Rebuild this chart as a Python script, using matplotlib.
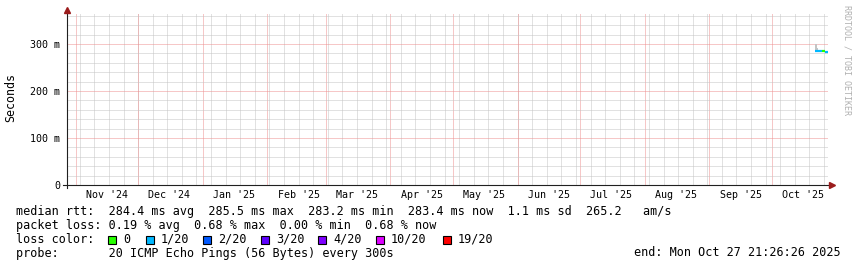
import numpy as np
import pandas as pd
import matplotlib
matplotlib.use("Agg")
import matplotlib.pyplot as plt
import matplotlib.dates as mdates
from matplotlib.ticker import MultipleLocator, FixedLocator
from matplotlib.patches import Rectangle

W, H = 857, 267
MONO = "DejaVu Sans Mono"

end_time = pd.Timestamp("2025-10-27 21:26:26")
start_time = end_time - pd.Timedelta(days=365)

# median rtt (s) and lost pings (of 20) per consolidated step
med_time = pd.to_datetime([
    "2025-10-21 16:00", "2025-10-22 04:00", "2025-10-22 16:00", "2025-10-23 04:00",
    "2025-10-23 16:00", "2025-10-24 04:00", "2025-10-24 16:00", "2025-10-25 04:00",
    "2025-10-25 16:00", "2025-10-26 04:00", "2025-10-26 16:00", "2025-10-27 04:00",
])
med_rtt = [0.2846, 0.2843, 0.2842, 0.2843, 0.2844, 0.2842, 0.2845,
           0.2853, 0.2855, 0.2852, 0.2834, 0.2834]
med_loss = [0.2, 0.1, 0.2, 0.1, 0.1, 0.2, 0.1, 0.0, 0.0, 0.0, 0.14, 0.14]

# smoke (min / max of the pings)
smoke_time = pd.to_datetime(["2025-10-21 16:00", "2025-10-22 04:00", "2025-10-22 16:00",
                             "2025-10-23 04:00"])
smoke_lo = [0.2830, 0.2832, 0.2835, 0.2835]
smoke_hi = [0.3000, 0.2990, 0.2920, 0.2880]

loss_levels = [0, 1, 2, 3, 4, 10, 19]
loss_labels = ["0", "1/20", "2/20", "3/20", "4/20", "10/20", "19/20"]
loss_colors = ["#26ff00", "#00b8ff", "#0059ff", "#5e00ff", "#7e00ff", "#dd00ff", "#ff0000"]

y_max = 0.366
y_ticks = [0, 0.1, 0.2, 0.3]
y_ticklabels = ["0", "100 m", "200 m", "300 m"]

rtt_line = "median rtt:  284.4 ms avg  285.5 ms max  283.2 ms min  283.4 ms now  1.1 ms sd  265.2   am/s"
loss_line = "packet loss: 0.19 % avg  0.68 % max  0.00 % min  0.68 % now"
probe_line = "probe:       20 ICMP Echo Pings (56 Bytes) every 300s"
end_line = "end: Mon Oct 27 21:26:26 2025"


def loss_color(v):
    for lvl, c in zip(loss_levels, loss_colors):
        if v <= lvl:
            return c
    return loss_colors[-1]


fig = plt.figure(figsize=(W / 100, H / 100), dpi=100)
ax_l, ax_r, ax_t, ax_b = 67, 828, 13, 185
ax = fig.add_axes([ax_l / W, (H - ax_b) / H, (ax_r - ax_l) / W, (ax_b - ax_t) / H])
aw, ah = ax_r - ax_l, ax_b - ax_t

ax.set_xlim(start_time, end_time)
ax.set_ylim(0, y_max)
for s in ax.spines.values():
    s.set_visible(False)

grey = "#c4c4c4"
red = "#ee9090"
dots = (0, (1, 1))
gkw = dict(lw=0.72, ls=dots, snap=True)

# grid
for d in pd.date_range(start_time.normalize(), end_time, freq="W-SUN"):
    ax.axvline(d, color=grey, zorder=0, **gkw)
for d in pd.date_range(start_time.normalize(), end_time, freq="MS"):
    ax.axvline(d, color=red, zorder=0.5, **gkw)
ax.yaxis.set_major_locator(FixedLocator(y_ticks))
ax.yaxis.set_minor_locator(MultipleLocator(0.02))
ax.set_yticklabels(y_ticklabels)
ax.grid(axis="y", which="minor", color=grey, zorder=0, **gkw)
ax.grid(axis="y", which="major", color=red, zorder=0.5, **gkw)
ax.set_axisbelow(True)

ax.xaxis.set_major_locator(mdates.MonthLocator(bymonthday=16))
ax.xaxis.set_major_formatter(mdates.DateFormatter("%b '%y"))
ax.tick_params(axis="both", which="both", length=0, labelsize=7.2)
ax.tick_params(axis="x", pad=3.5)
ax.tick_params(axis="y", pad=5)
for lab in ax.get_xticklabels() + ax.get_yticklabels():
    lab.set_family(MONO)

# smoke
ax.fill_between(smoke_time, smoke_lo, smoke_hi, step="post", color="#c4c4c4", lw=0, zorder=2)

# median, coloured by loss
n = len(med_time)
for i in range(n):
    t0 = med_time[i]
    t1 = med_time[i + 1] if i + 1 < n else end_time
    ax.plot([t0, t1], [med_rtt[i], med_rtt[i]], color=loss_color(med_loss[i]),
            lw=1.6, solid_capstyle="butt", zorder=3)

# axes with arrows
axc = "#202020"
arrow = "#9b1c1c"
ax.plot([-4 / aw, 1 + 2 / aw], [0, 0], transform=ax.transAxes, color=axc, lw=0.8, clip_on=False)
ax.plot([0, 0], [-3 / ah, 1 + 1 / ah], transform=ax.transAxes, color=axc, lw=0.8, clip_on=False)
ax.plot([1 + 4 / aw], [0], marker=">", ms=4.5, color=arrow, transform=ax.transAxes, clip_on=False)
ax.plot([0], [1 + 3 / ah], marker="^", ms=4.5, color=arrow, transform=ax.transAxes, clip_on=False)

fig.text(11 / W, 1 - 98 / H, "Seconds", rotation=90, family=MONO, size=8.4,
         ha="center", va="center")
fig.text(847 / W, 1 - 60 / H, "RRDTOOL / TOBI OETIKER", rotation=270, family=MONO, size=6,
         color="#b0b0b0", ha="center", va="center")

# legend block
fs = 8.45
fig.text(16 / W, 1 - 211.5 / H, rtt_line, family=MONO, size=fs, va="center")
fig.text(16 / W, 1 - 225.5 / H, loss_line, family=MONO, size=fs, va="center")
fig.text(16 / W, 1 - 239.5 / H, "loss color:", family=MONO, size=fs, va="center")
fig.text(16 / W, 1 - 253 / H, probe_line, family=MONO, size=fs, va="center")
fig.text(841 / W, 1 - 253 / H, end_line, family=MONO, size=fs, va="center", ha="right")

sq_x = [108, 146, 203, 261, 318, 376, 443]
for x, lab, c in zip(sq_x, loss_labels, loss_colors):
    fig.add_artist(Rectangle((x / W, 1 - 243.5 / H), 8 / W, 8 / H, transform=fig.transFigure,
                             facecolor=c, edgecolor="black", lw=0.8))
    fig.text((x + 15) / W, 1 - 239.5 / H, lab, family=MONO, size=fs, va="center")

fig.savefig("out.png", dpi=100, facecolor="white")
